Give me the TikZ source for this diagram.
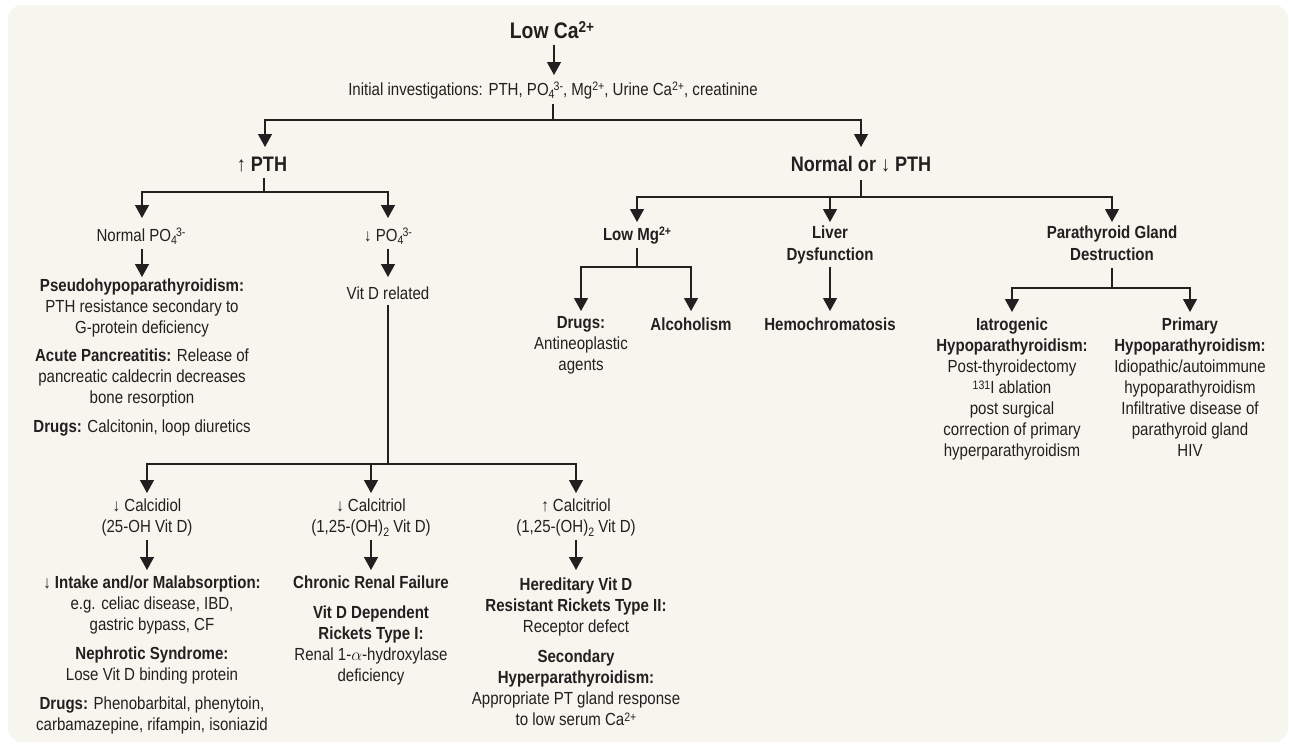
\documentclass[tikz,border=0pt]{standalone}
\usepackage{fontspec}
\setmainfont{Liberation Sans}[FakeStretch=0.86]
\usetikzlibrary{arrows.meta,calc}
\definecolor{bgc}{HTML}{F6F5EE}
\definecolor{ink}{HTML}{231F20}
\newcommand\upx[1]{\raisebox{0.24em}{\scalebox{0.7}{#1}}}
\newcommand\dnx[1]{\raisebox{-0.2em}{\scalebox{0.7}{#1}}}
\newcommand\pofour{PO\dnx{4}\kern-0.05em\upx{3-}}
\tikzset{
  txt/.style={font=\fontsize{17.5}{21}\selectfont, text=ink, align=center, inner sep=0pt, outer sep=0pt, anchor=north,
    execute at begin node={\rule{0pt}{14pt}}},
  sub/.style={txt, font=\fontsize{17.5}{22}\selectfont\bfseries},
  hd/.style={txt, font=\fontsize{21}{24}\selectfont\bfseries, execute at begin node={\rule{0pt}{17pt}}},
  ln/.style={draw=ink, line width=1.3pt},
  arr/.style={ln, -{Triangle[width=14pt,length=13pt]}},
}
\begin{document}
\begin{tikzpicture}[x=1pt,y=-1pt]
\useasboundingbox (0,0) rectangle (1289,745);
\fill[white] (0,0) rectangle (1289,745);
\fill[bgc, rounded corners=14pt] (8,5) rectangle (1288,742);

% top
\node[hd, font=\fontsize{22.5}{26}\selectfont\bfseries] (lowca) at (552,21) {Low Ca\upx{2+}};
\node[txt] (init) at (553,81) {Initial investigations: PTH, \pofour, Mg\upx{2+}, Urine Ca\upx{2+}, creatinine};
\node[hd] (ptu) at (262,154) {↑ PTH};
\node[hd] (ptn) at (861,154) {Normal or ↓ PTH};

% left branch
\node[txt] (npo) at (141,227) {Normal \pofour};
\node[txt] (dpo) at (388,227) {↓ \pofour};
\node[txt] (pseudo) at (142,279) {\textbf{Pseudohypoparathyroidism:}\\PTH resistance secondary to\\G-protein deficiency\\[7pt]\textbf{Acute Pancreatitis:} Release of\\pancreatic caldecrin decreases\\bone resorption\\[8pt]\textbf{Drugs:} Calcitonin, loop diuretics};
\node[txt] (vitd) at (388,285) {Vit D related};

\node[txt] (calcidiol) at (147,499) {↓ Calcidiol\\(25-OH Vit D)};
\node[txt] (calcitrD) at (371,499) {↓ Calcitriol\\(1,25-(OH)\dnx{2} Vit D)};
\node[txt] (calcitrU) at (576,499) {↑ Calcitriol\\(1,25-(OH)\dnx{2} Vit D)};

\node[txt] (intake) at (152,576) {\textbf{↓ Intake and/or Malabsorption:}\\e.g. celiac disease, IBD,\\gastric bypass, CF\\[8pt]\textbf{Nephrotic Syndrome:}\\Lose Vit D binding protein\\[8pt]\textbf{Drugs:} Phenobarbital, phenytoin,\\carbamazepine, rifampin, isoniazid};
\node[txt] (crf) at (371,576) {\textbf{Chronic Renal Failure}\\[9pt]\textbf{Vit D Dependent}\\\textbf{Rickets Type I:}\\Renal 1-$\alpha$-hydroxylase\\deficiency};
\node[txt] (hered) at (576,578) {\textbf{Hereditary Vit D}\\\textbf{Resistant Rickets Type II:}\\Receptor defect\\[9pt]\textbf{Secondary}\\\textbf{Hyperparathyroidism:}\\Appropriate PT gland response\\to low serum Ca\upx{2+}};

% right branch
\node[sub] (lowmg) at (637,226) {Low Mg\upx{2+}};
\node[sub] (liver) at (830,226) {Liver\\Dysfunction};
\node[sub] (ptg) at (1112,226) {Parathyroid Gland\\Destruction};

\node[txt] (drugs) at (581,316) {\textbf{Drugs:}\\Antineoplastic\\agents};
\node[sub] (alc) at (691,316) {Alcoholism};
\node[sub] (hemo) at (830,316) {Hemochromatosis};

\node[txt] (iatro) at (1012,318) {\textbf{Iatrogenic}\\\textbf{Hypoparathyroidism:}\\Post-thyroidectomy\\\upx{131}I ablation\\post surgical\\correction of primary\\hyperparathyroidism};
\node[txt] (prim) at (1190,318) {\textbf{Primary}\\\textbf{Hypoparathyroidism:}\\Idiopathic/autoimmune\\hypoparathyroidism\\Infiltrative disease of\\parathyroid gland\\HIV};

% junction points
\coordinate (j0) at (553,120);
\coordinate (j1) at (264,192);
\coordinate (j2) at (861,197);
\coordinate (j3) at (388,464);
\coordinate (j4) at (637,267);
\coordinate (j5) at (1112,288);

% connectors
\draw[arr] ($(lowca.south)+(2,7)$) -- ($(lowca.south |- init.north)+(2,-6)$);
\draw[ln] ($(init.south)+(0,5)$) -- (j0);
\draw[arr] (j0) -| ($(ptu.north)+(3,-7)$);
\draw[arr] (j0) -| ($(ptn.north)+(0,-7)$);

\draw[ln] ($(ptu.south)+(2,6)$) -- ($(j1)+(0,0)$);
\draw[arr] (j1) -| ($(npo.north)+(1,-9)$);
\draw[arr] (j1) -| ($(dpo.north)+(0,-9)$);
\draw[arr] ($(npo.south)+(1,4)$) -- ($(npo.south |- pseudo.north)+(1,-2)$);
\draw[arr] ($(dpo.south)+(0,4)$) -- ($(vitd.north)+(0,-8)$);
\draw[ln] ($(vitd.south)+(0,6)$) -- (j3);
\draw[arr] (j3) -| ($(calcidiol.north)+(0,-6)$);
\draw[arr] (j3) -| ($(calcitrD.north)+(0,-6)$);
\draw[arr] (j3) -| ($(calcitrU.north)+(0,-6)$);
\draw[arr] ($(calcidiol.south)+(0,3.5)$) -- ($(calcidiol.south |- intake.north)+(0,-6)$);
\draw[arr] ($(calcitrD.south)+(0,3.5)$) -- ($(crf.north)+(0,-6)$);
\draw[arr] ($(calcitrU.south)+(0,3.5)$) -- ($(hered.north)+(0,-8)$);

\draw[ln] ($(ptn.south)+(0,8)$) -- (j2);
\draw[arr] (j2) -| ($(lowmg.north)+(0,-4)$);
\draw[arr] (j2) -| ($(liver.north)+(0,-4)$);
\draw[arr] (j2) -| ($(ptg.north)+(0,-4)$);

\draw[ln] ($(lowmg.south)+(0,4.5)$) -- (j4);
\draw[arr] (j4) -| ($(drugs.north)+(0,-5)$);
\draw[arr] (j4) -| ($(alc.north)+(0,-5)$);
\draw[arr] ($(liver.south)+(0,2.5)$) -- ($(hemo.north)+(0,-5)$);

\draw[ln] ($(ptg.south)+(0,7)$) -- (j5);
\draw[arr] (j5) -| ($(iatro.north)+(0,-6)$);
\draw[arr] (j5) -| ($(prim.north)+(0,-6)$);
\end{tikzpicture}
\end{document}
